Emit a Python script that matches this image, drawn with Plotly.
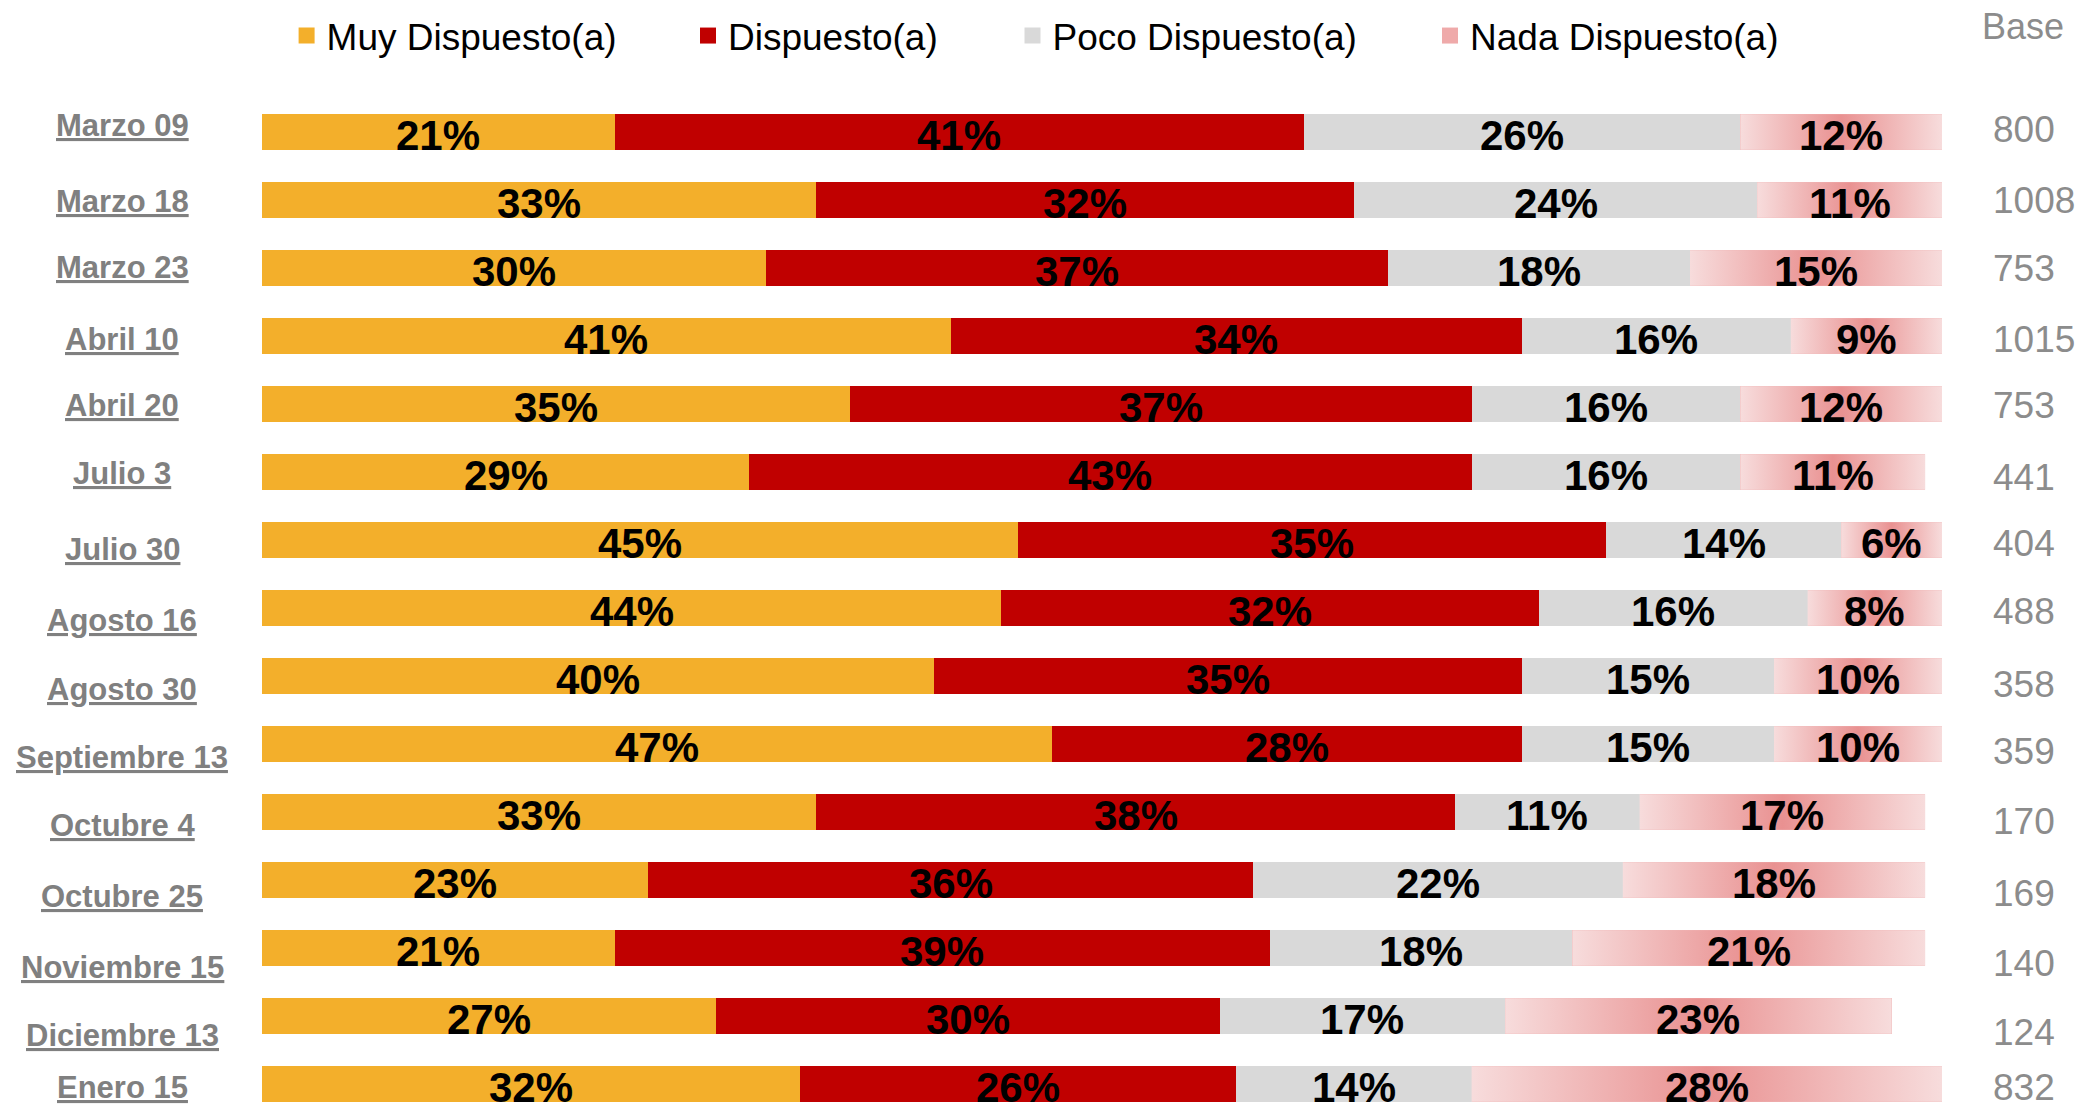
import plotly.graph_objects as go

# Survey waves and answer shares (%)
fechas = ["Marzo 09", "Marzo 18", "Marzo 23", "Abril 10", "Abril 20", "Julio 3",
          "Julio 30", "Agosto 16", "Agosto 30", "Septiembre 13", "Octubre 4",
          "Octubre 25", "Noviembre 15", "Diciembre 13", "Enero 15"]
muy_dispuesto = [21, 33, 30, 41, 35, 29, 45, 44, 40, 47, 33, 23, 21, 27, 32]
dispuesto = [41, 32, 37, 34, 37, 43, 35, 32, 35, 28, 38, 36, 39, 30, 26]
poco_dispuesto = [26, 24, 18, 16, 16, 16, 14, 16, 15, 15, 11, 22, 18, 17, 14]
nada_dispuesto = [12, 11, 15, 9, 12, 11, 6, 8, 10, 10, 17, 18, 21, 23, 28]
base = [800, 1008, 753, 1015, 753, 441, 404, 488, 358, 359, 170, 169, 140, 124, 832]

series_names = ["Muy Dispuesto(a)", "Dispuesto(a)", "Poco Dispuesto(a)", "Nada Dispuesto(a)"]

# ---- page geometry (pixels) ----
W, H = 2077, 1104
PLOT_L, PLOT_R = 262, 1942
ROW0_Y, ROW_STEP = 132, 68
BAR_W = 0.52

COLORS = ["#F3AF2B", "#C00000", "#D9D9D9", "#F0B6B6"]
LEGEND_COLORS = ["#F3AF2B", "#C00000", "#D9D9D9", "#EFAAAA"]
NADA_SCALE = [[0.0, "#F7DCDC"], [0.5, "#E99191"], [1.0, "#F7DCDC"]]
FONT = "Liberation Sans, Arial, sans-serif"
GRAY_LABEL = "#808080"
GRAY_BASE = "#8C8C8C"

# small per-row vertical nudges (px, downward) of the side labels
label_nudge = [-7, 1, -1, 3, 1, 1, 9, 12, 13, 13, 13, 16, 19, 19, 3]
base_nudge = [-3, 0, 0, 3, 1, 5, 3, 3, 8, 7, 9, 13, 15, 16, 3]


def px_to_paper_x(px):
    return (px - PLOT_L) / (PLOT_R - PLOT_L)


rows = list(range(len(fechas)))
series = [muy_dispuesto, dispuesto, poco_dispuesto, nada_dispuesto]

fig = go.Figure()

# stacked bars
starts = [[0] * len(fechas)]
for k, vals in enumerate(series):
    fig.add_trace(go.Bar(
        x=vals, y=rows, orientation="h", width=BAR_W,
        name=series_names[k], marker=dict(color=COLORS[k], line=dict(width=0)),
        showlegend=False, hoverinfo="skip",
    ))
    starts.append([s + v for s, v in zip(starts[-1], vals)])

# gradient overlay on the "Nada" segments
for i in rows:
    x0, x1 = starts[3][i], starts[4][i]
    y0, y1 = i - BAR_W / 2, i + BAR_W / 2
    fig.add_trace(go.Scatter(
        x=[x0, x1, x1, x0, x0], y=[y0, y0, y1, y1, y0],
        mode="lines", fill="toself", line=dict(width=0),
        fillgradient=dict(type="horizontal", colorscale=NADA_SCALE),
        showlegend=False, hoverinfo="skip",
    ))

# legend entries (square swatches), one legend box per series
for k, name in enumerate(series_names):
    fig.add_trace(go.Scatter(
        x=[None], y=[None], mode="markers", name=name,
        marker=dict(symbol="square", size=18, color=LEGEND_COLORS[k], line=dict(width=0)),
        legend="legend" if k == 0 else f"legend{k + 1}",
        hoverinfo="skip",
    ))

annotations = []
# percentage labels centred in each segment
for k, vals in enumerate(series):
    for i, v in enumerate(vals):
        annotations.append(dict(
            x=starts[k][i] + v / 2, y=i, xref="x", yref="y",
            xanchor="center", yanchor="middle", yshift=-3,
            text=f"<b>{v}%</b>", showarrow=False,
            font=dict(family=FONT, size=42, color="black"),
        ))
# date labels on the left
for i, name in enumerate(fechas):
    annotations.append(dict(
        x=px_to_paper_x(122), xref="paper", y=i, yref="y",
        xanchor="center", yanchor="middle", yshift=-label_nudge[i],
        text=f"<b><u>{name}</u></b>", showarrow=False,
        font=dict(family=FONT, size=31, color=GRAY_LABEL),
    ))
# sample sizes on the right
for i, n in enumerate(base):
    annotations.append(dict(
        x=px_to_paper_x(1991), xref="paper", y=i, yref="y",
        xanchor="left", yanchor="middle", yshift=-base_nudge[i],
        text=str(n), showarrow=False,
        font=dict(family=FONT, size=37, color=GRAY_BASE),
    ))
annotations.append(dict(
    x=px_to_paper_x(1980), xref="paper", y=1 - 26.5 / H, yref="paper",
    xanchor="left", yanchor="middle", text="Base", showarrow=False,
    font=dict(family=FONT, size=36, color=GRAY_BASE),
))

legend_centers = [306.6, 708, 1032.5, 1450]
legend_common = dict(
    orientation="h", xref="paper", yref="paper",
    xanchor="left", yanchor="middle", y=1 - 36 / H,
    font=dict(family=FONT, size=37, color="black"),
    bgcolor="rgba(0,0,0,0)", borderwidth=0,
)
legends = {}
for k, cx in enumerate(legend_centers):
    key = "legend" if k == 0 else f"legend{k + 1}"
    legends[key] = dict(legend_common, x=px_to_paper_x(cx - 20))

y_top = -ROW0_Y / ROW_STEP
y_bottom = (H - ROW0_Y) / ROW_STEP

fig.update_layout(
    width=W, height=H,
    margin=dict(l=PLOT_L, r=W - PLOT_R, t=0, b=0, autoexpand=False),
    paper_bgcolor="white", plot_bgcolor="white",
    barmode="stack", bargap=0,
    xaxis=dict(range=[0, 100], visible=False, fixedrange=True),
    yaxis=dict(range=[y_bottom, y_top], visible=False, fixedrange=True),
    annotations=annotations,
    showlegend=True,
    **legends,
)

fig.write_html("out.html")
